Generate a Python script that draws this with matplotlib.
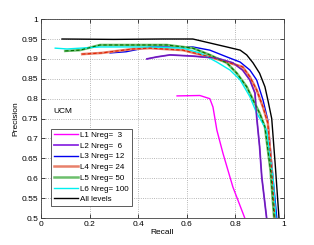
import matplotlib.pyplot as plt

# Curvas precision-recall
r_l1 = [0.56, 0.654, 0.695, 0.708, 0.724, 0.749, 0.79, 0.839]
p_l1 = [0.807, 0.808, 0.80, 0.779, 0.721, 0.663, 0.578, 0.50]

r_l2 = [0.436, 0.477, 0.531, 0.625, 0.724, 0.79, 0.83, 0.86, 0.881, 0.888, 0.90, 0.909, 0.929]
p_l2 = [0.90, 0.905, 0.91, 0.907, 0.902, 0.89, 0.872, 0.847, 0.814, 0.754, 0.68, 0.603, 0.50]

r_l3 = [0.284, 0.35, 0.449, 0.625, 0.695, 0.765, 0.82, 0.86, 0.888, 0.914, 0.934, 0.955, 0.971]
p_l3 = [0.915, 0.918, 0.93, 0.93, 0.922, 0.905, 0.892, 0.872, 0.847, 0.797, 0.746, 0.603, 0.50]

r_l4 = [0.169, 0.25, 0.379, 0.449, 0.584, 0.695, 0.765, 0.83, 0.86, 0.888, 0.914, 0.934, 0.95, 0.963]
p_l4 = [0.912, 0.915, 0.925, 0.927, 0.922, 0.905, 0.892, 0.88, 0.855, 0.822, 0.779, 0.739, 0.62, 0.50]

r_l5 = [0.099, 0.16, 0.243, 0.379, 0.477, 0.518, 0.625, 0.695, 0.765, 0.806, 0.847, 0.873, 0.90, 0.922, 0.945, 0.96]
p_l5 = [0.92, 0.922, 0.935, 0.935, 0.935, 0.935, 0.927, 0.91, 0.89, 0.864, 0.83, 0.797, 0.764, 0.729, 0.62, 0.50]

r_l6 = [0.058, 0.107, 0.243, 0.449, 0.584, 0.654, 0.724, 0.778, 0.82, 0.86, 0.888, 0.929, 0.955, 0.967]
p_l6 = [0.927, 0.925, 0.93, 0.93, 0.927, 0.915, 0.892, 0.872, 0.847, 0.805, 0.764, 0.721, 0.603, 0.50]

r_all = [0.086, 0.3, 0.5, 0.625, 0.695, 0.765, 0.82, 0.847, 0.873, 0.90, 0.922, 0.934, 0.95, 0.965, 0.98]
p_all = [0.95, 0.949, 0.95, 0.95, 0.94, 0.93, 0.922, 0.91, 0.89, 0.864, 0.83, 0.797, 0.75, 0.63, 0.50]

etiquetas = ['L1 Nreg=  3', 'L2 Nreg=  6', 'L3 Nreg= 12', 'L4 Nreg= 24',
             'L5 Nreg= 50', 'L6 Nreg= 100', 'All levels']
colores = ['#ff00ff', '#8a2be2', '#0000ee', '#e8806a', '#6cbf6c', '#00f0f0', '#000000']
grosores = [1.0, 1.3, 1.0, 1.8, 1.8, 1.0, 1.0]

datos = [(r_l1, p_l1), (r_l2, p_l2), (r_l3, p_l3), (r_l4, p_l4),
         (r_l5, p_l5), (r_l6, p_l6), (r_all, p_all)]

plt.rcParams['font.family'] = ['Liberation Sans', 'DejaVu Sans']

fig = plt.figure(figsize=(3.14, 2.45), dpi=100)
ax = fig.add_axes([0.131, 0.110, 0.773, 0.812])

for (r, p), et, c, g in zip(datos, etiquetas, colores, grosores):
    ax.plot(r, p, color=c, linewidth=g, label=et)

# lineas oscuras encima de las gruesas
ax.plot(r_l4, p_l4, color='#e02000', linewidth=0.8, dashes=(3, 2))
ax.plot(r_l5, p_l5, color='#007000', linewidth=0.8, dashes=(3, 2))
ax.plot(r_l2, p_l2, color='#6a1bb2', linewidth=0.8)

ax.set_xlim(0, 1)
ax.set_ylim(0.5, 1)
ax.set_xticks([0, 0.2, 0.4, 0.6, 0.8, 1])
ax.set_xticklabels(['0', '0.2', '0.4', '0.6', '0.8', '1'])
yt = [0.5, 0.55, 0.6, 0.65, 0.7, 0.75, 0.8, 0.85, 0.9, 0.95, 1]
ax.set_yticks(yt)
ax.set_yticklabels(['0.5', '0.55', '0.6', '0.65', '0.7', '0.75', '0.8', '0.85', '0.9', '0.95', '1'])
ax.tick_params(direction='in', labelsize=6, length=3, width=0.5, pad=2, top=True, right=True)
ax.grid(True, linestyle=':', color='#a0a0a0', linewidth=0.6)
for s in ax.spines.values():
    s.set_linewidth(0.6)
    s.set_color('#404040')

ax.set_xlabel('Recall', fontsize=6, labelpad=1)
ax.set_ylabel('Precision', fontsize=6, labelpad=2)
ax.text(0.05, 0.765, 'UCM', fontsize=6)

leg = ax.legend(loc='lower left', bbox_to_anchor=(0.041, 0.06), fontsize=5.8,
                fancybox=False, framealpha=1, edgecolor='#404040',
                handlelength=3.0, handletextpad=0.3, labelspacing=0.38, borderpad=0.35,
                borderaxespad=0)
leg.get_frame().set_linewidth(0.6)

plt.savefig('out.png', dpi=100)
